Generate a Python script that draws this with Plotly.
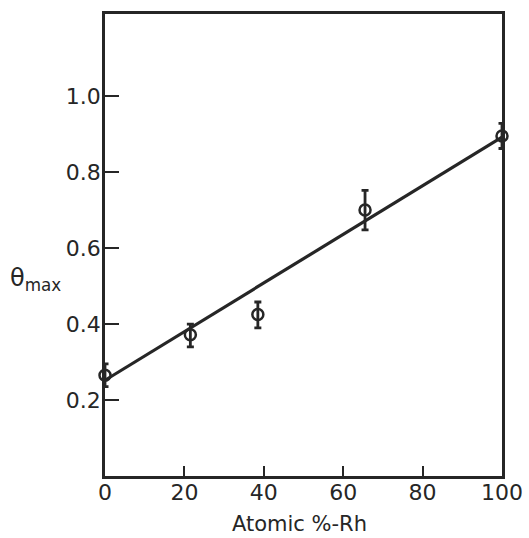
import plotly.graph_objects as go

# Data
atomic_pct_rh = [0, 21.5, 38.5, 65.5, 100]
theta_max = [0.265, 0.372, 0.425, 0.700, 0.895]
err_plus = [0.030, 0.028, 0.033, 0.052, 0.033]
err_minus = [0.030, 0.032, 0.035, 0.052, 0.033]

fit_x = [0, 100]
fit_y = [0.252, 0.892]

x_ticks = [0, 20, 40, 60, 80, 100]
x_ticktext = ["0", "20", "40", "60", "80", "100"]
y_ticks = [0.2, 0.4, 0.6, 0.8, 1.0]
y_ticktext = ["0.2", "0.4", "0.6", "0.8", "1.0"]

ink = "#262626"
font_family = "DejaVu Sans"

fig = go.Figure()
fig.add_trace(go.Scatter(
    x=fit_x, y=fit_y, mode="lines",
    line=dict(color=ink, width=3.2), showlegend=False, cliponaxis=False,
))
fig.add_trace(go.Scatter(
    x=atomic_pct_rh, y=theta_max, mode="markers",
    marker=dict(symbol="circle-open", size=11, color=ink, line=dict(width=2.5, color=ink)),
    error_y=dict(type="data", symmetric=False, array=err_plus, arrayminus=err_minus,
                 color=ink, thickness=2.8, width=3.5),
    showlegend=False, cliponaxis=False,
))

fig.update_layout(
    width=529, height=538,
    margin=dict(l=105, r=27, t=14, b=62),
    paper_bgcolor="white", plot_bgcolor="white",
    font=dict(family=font_family, color=ink),
    xaxis=dict(
        range=[0, 100], tickvals=x_ticks, ticktext=x_ticktext,
        ticks="inside", ticklen=10, tickwidth=1.5, tickcolor=ink,
        showline=True, linecolor=ink, linewidth=2.5, mirror=True,
        showgrid=False, zeroline=False, automargin=False,
        ticklabelstandoff=-5,
        tickfont=dict(size=22, family=font_family, color=ink),
    ),
    yaxis=dict(
        range=[0, 1.216], tickvals=y_ticks, ticktext=y_ticktext,
        ticks="inside", ticklen=14, tickwidth=1.5, tickcolor=ink,
        showline=True, linecolor=ink, linewidth=2.5, mirror=True,
        showgrid=False, zeroline=False, automargin=False,
        ticklabelstandoff=-3,
        tickfont=dict(size=22, family=font_family, color=ink),
    ),
    annotations=[
        dict(
            text="θ<sub>max</sub>", xref="paper", yref="paper",
            x=-0.244, xanchor="left", y=0.426, showarrow=False,
            font=dict(size=24, family=font_family, color=ink),
        ),
        dict(
            text="Atomic %-Rh", xref="paper", yref="paper",
            x=0.49, y=-0.104, yanchor="middle", showarrow=False,
            font=dict(size=21, family=font_family, color=ink),
        ),
    ],
)

fig.write_html("out.html")
